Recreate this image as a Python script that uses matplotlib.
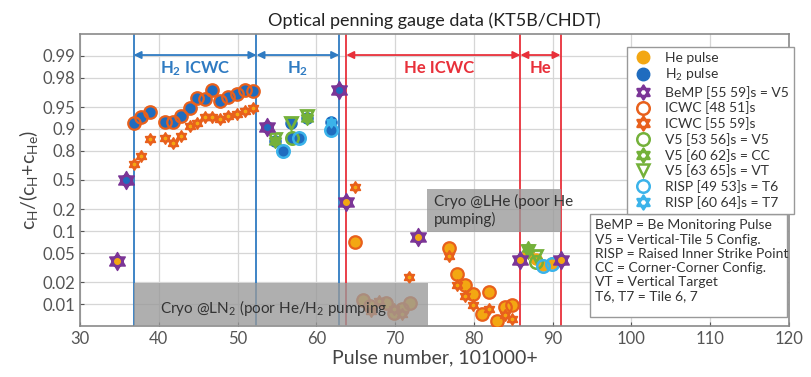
import numpy as np
import matplotlib
matplotlib.use('Agg')
import matplotlib.pyplot as plt
from matplotlib.path import Path
from matplotlib.lines import Line2D
from matplotlib.patches import Rectangle
import matplotlib.transforms as mtransforms

plt.rcParams['font.family'] = ['Lato', 'DejaVu Sans']
plt.rcParams['mathtext.default'] = 'regular'

# colours
C_HE = '#f3a712'
C_H2 = '#1f6cbf'
C_BEMP = '#7b3597'
C_ICWC = '#e8601c'
C_V5 = '#74b13a'
C_RISP = '#3bb3ea'
C_BLUE = '#2f7bc2'
C_RED = '#e8303a'

# He pulses (filled dots)
he_x = [34.7, 63.8, 64.9, 65.9, 66.8, 68.9, 69.9, 70.9, 71.9, 72.9,
        76.9, 77.8, 78.9, 79.9, 81.0, 81.9, 82.9, 83.9, 84.9,
        85.9, 86.9, 87.9, 88.8, 89.9, 91.0]
he_y = [0.0387, 0.249, 0.070, 0.0115, 0.0095, 0.0104, 0.0076, 0.0086, 0.0104, 0.0837,
        0.0593, 0.0258, 0.0182, 0.0138, 0.0074, 0.0147, 0.0059, 0.0091, 0.0097,
        0.0403, 0.052, 0.042, 0.034, 0.036, 0.0403]

# H2 pulses (filled dots)
h2_x = [35.8, 36.9, 37.8, 38.9, 40.8, 41.8, 42.8, 43.9, 44.8, 45.9, 46.8, 47.8,
        48.8, 49.9, 50.9, 51.9, 53.7, 54.8, 55.8, 56.8, 56.9, 57.8, 58.8, 61.9,
        61.9, 62.9]
h2_y = [0.50, 0.917, 0.931, 0.942, 0.921, 0.921, 0.933, 0.948, 0.962, 0.961, 0.971, 0.959,
        0.963, 0.967, 0.971, 0.970, 0.907, 0.853, 0.800, 0.917, 0.868, 0.868, 0.929, 0.898,
        0.921, 0.971]

# Be monitoring pulses
bemp_x = [34.7, 35.8, 53.7, 62.9, 63.8, 72.9, 85.9, 91.0]
bemp_y = [0.0387, 0.50, 0.907, 0.971, 0.249, 0.0837, 0.0403, 0.0403]
bemp_gas = ['He', 'H2', 'H2', 'H2', 'He', 'He', 'He', 'He']

# ICWC [48 51]s
icwc1_x = [36.9, 37.8, 38.9, 40.8, 41.8, 42.8, 43.9, 44.8, 45.9, 46.8, 47.8, 48.8,
           49.9, 50.9, 51.9, 64.9, 65.9, 66.8, 68.9, 69.9, 70.9, 71.9, 76.9, 77.8,
           78.9, 79.9, 81.0, 81.9, 82.9, 83.9, 84.9]
icwc1_y = [0.917, 0.931, 0.942, 0.921, 0.921, 0.933, 0.948, 0.962, 0.961, 0.971, 0.959, 0.963,
           0.967, 0.971, 0.970, 0.070, 0.0115, 0.0095, 0.0104, 0.0076, 0.0086, 0.0104, 0.0593, 0.0258,
           0.0182, 0.0138, 0.0074, 0.0147, 0.0059, 0.0091, 0.0097]

# ICWC [55 59]s
icwc2_x = [36.9, 37.8, 38.9, 40.8, 41.8, 42.8, 43.9, 44.8, 45.9, 46.8, 47.8, 48.8,
           49.9, 50.9, 51.9, 64.9, 66.9, 67.9, 69.8, 70.9, 71.8, 76.9, 77.8, 78.9,
           79.9, 81.9, 83.9, 84.9]
icwc2_y = [0.697, 0.766, 0.861, 0.865, 0.846, 0.874, 0.910, 0.917, 0.931, 0.931, 0.927, 0.933,
           0.938, 0.944, 0.948, 0.398, 0.0081, 0.0110, 0.0085, 0.0072, 0.0233, 0.0462, 0.0182, 0.0129,
           0.0097, 0.0085, 0.0071, 0.0062]

# V5 / RISP configurations
v5a_x, v5a_y = [56.9, 87.9], [0.868, 0.038]
v5b_x, v5b_y = [54.8, 58.8, 86.9], [0.853, 0.929, 0.058]
v5c_x, v5c_y = [54.8, 56.8, 58.8, 86.9, 87.9], [0.862, 0.917, 0.933, 0.054, 0.045]
risp6_x, risp6_y = [55.8, 57.8, 61.9, 88.8, 89.9], [0.800, 0.868, 0.898, 0.033, 0.035]
risp7_x, risp7_y = [61.9], [0.921]

yticks = [0.01, 0.02, 0.05, 0.1, 0.2, 0.5, 0.8, 0.9, 0.95, 0.98, 0.99]
ytick_labels = ['0.01', '0.02', '0.05', '0.1', '0.2', '0.5', '0.8', '0.9', '0.95', '0.98', '0.99']
xticks = list(range(30, 121, 10))

blue_lines = [36.8, 52.4, 62.9]
red_lines = [63.8, 85.9, 91.0]


def fwd(p):
    p = np.clip(np.asarray(p, float), 1e-9, 1 - 1e-9)
    return np.where(p < 0.5, np.log10(2 * p), -np.log10(2 * (1 - p)))


def inv(y):
    y = np.clip(np.asarray(y, float), -9, 9)
    return np.where(y < 0, 10 ** y / 2, 1 - 10 ** (-y) / 2)


# star of David made of two triangles
a_up = np.pi / 2 + np.arange(3) * 2 * np.pi / 3
a_dn = -np.pi / 2 + np.arange(3) * 2 * np.pi / 3
verts = [(np.cos(a), np.sin(a)) for a in a_up] + [(0, 0)] + \
        [(np.cos(a), np.sin(a)) for a in a_dn] + [(0, 0)]
codes = [Path.MOVETO, Path.LINETO, Path.LINETO, Path.CLOSEPOLY] * 2
hexagram = Path(verts, codes)

fig = plt.figure(figsize=(8.11, 3.77), dpi=100)
ax = fig.add_axes([80 / 811, 1 - 326 / 377, 709 / 811, 292 / 377])
ax.set_yscale('function', functions=(fwd, inv))
ax.set_xlim(30, 120)
ax.set_ylim(0.005, 0.995)
ax.set_xticks(xticks)
ax.set_yticks(yticks)
ax.set_yticklabels(ytick_labels)
ax.minorticks_off()
ax.grid(True, color='#d6d6d6', lw=0.9)
ax.set_axisbelow(True)
ax.tick_params(direction='in', length=3, labelsize=12, colors='#555555', labelcolor='#555555')
for s in ax.spines.values():
    s.set_color('#8a8a8a')
    s.set_linewidth(1.2)

for x in blue_lines:
    ax.axvline(x, color=C_BLUE, lw=1.3, zorder=1.5)
for x in red_lines:
    ax.axvline(x, color=C_RED, lw=1.3, zorder=1.5)

ms = 8
ax.plot(he_x, he_y, 'o', color=C_HE, ms=ms, mec=C_HE, zorder=3)
ax.plot(h2_x, h2_y, 'o', color=C_H2, ms=ms, mec=C_H2, zorder=3)
ax.plot(icwc1_x, icwc1_y, 'o', mfc='none', mec=C_ICWC, ms=ms + 1, mew=1.6, zorder=4)
ax.plot(icwc2_x, icwc2_y, ls='none', marker=hexagram, mfc=C_HE, mec=C_ICWC, ms=8, mew=1.3, zorder=4)
ax.plot(v5a_x, v5a_y, 'o', mfc='none', mec=C_V5, ms=ms + 1, mew=1.8, zorder=4)
ax.plot(v5b_x, v5b_y, ls='none', marker=hexagram, mfc=C_V5, mec=C_V5, ms=10, mew=1, zorder=4)
ax.plot(v5c_x, v5c_y, 'v', mfc='none', mec=C_V5, ms=8, mew=2, zorder=4)
ax.plot(risp6_x, risp6_y, 'o', mfc='none', mec=C_RISP, ms=ms + 1, mew=1.8, zorder=4)
ax.plot(risp7_x, risp7_y, ls='none', marker=hexagram, mfc=C_RISP, mec=C_RISP, ms=8, mew=1, zorder=4)
ax.plot(bemp_x, bemp_y, ls='none', marker=hexagram, mfc=C_BEMP, mec=C_BEMP, ms=13, mew=1, zorder=5)
for x, y, g in zip(bemp_x, bemp_y, bemp_gas):
    ax.plot(x, y, 'o', color=C_HE if g == 'He' else C_H2, ms=4, zorder=6)

# cryopump periods
trans = mtransforms.blended_transform_factory(ax.transData, ax.transAxes)
ax.add_patch(Rectangle((36.9, 0), 74.2 - 36.9, 0.147, transform=trans,
                       fc='#999999', ec='none', alpha=0.78, zorder=7))
ax.text(40.2, 0.062, 'Cryo @LN$_2$ (poor He/H$_2$ pumping', transform=trans,
        fontsize=11, color='#333333', va='center', zorder=8)
ax.add_patch(Rectangle((74.0, 0.323), 91.0 - 74.0, 0.469 - 0.323, transform=trans,
                       fc='#999999', ec='none', alpha=0.78, zorder=7))
ax.text(74.9, 0.396, 'Cryo @LHe (poor He\npumping)', transform=trans,
        fontsize=11, color='#333333', va='center', linespacing=1.3, zorder=8)

# phase arrows
phases = [(36.8, 52.4, 'H$_2$ ICWC', C_BLUE), (52.4, 62.9, 'H$_2$', C_BLUE),
          (63.8, 85.9, 'He ICWC', C_RED), (85.9, 91.0, 'He', C_RED)]
for x0, x1, lab, c in phases:
    ax.annotate('', xy=(x0, 0.928), xytext=(x1, 0.928), xycoords=trans, textcoords=trans,
                arrowprops=dict(arrowstyle='<|-|>', color=c, lw=1.3, mutation_scale=11,
                                shrinkA=0, shrinkB=0))
    ax.text((x0 + x1) / 2 + (0.8 if lab == 'He ICWC' else 0), 0.882, lab, transform=trans,
            color=c, fontsize=12, fontweight='bold', ha='center', va='center')

handles = [
    Line2D([], [], ls='none', marker='o', color=C_HE, ms=9),
    Line2D([], [], ls='none', marker='o', color=C_H2, ms=9),
    Line2D([], [], ls='none', marker=hexagram, mfc='none', mec=C_BEMP, ms=10, mew=1.8),
    Line2D([], [], ls='none', marker='o', mfc='none', mec=C_ICWC, ms=9, mew=1.8),
    Line2D([], [], ls='none', marker=hexagram, mfc='none', mec=C_ICWC, ms=10, mew=1.8),
    Line2D([], [], ls='none', marker='o', mfc='none', mec=C_V5, ms=9, mew=1.8),
    Line2D([], [], ls='none', marker=hexagram, mfc='none', mec=C_V5, ms=10, mew=1.8),
    Line2D([], [], ls='none', marker='v', mfc='none', mec=C_V5, ms=9, mew=1.8),
    Line2D([], [], ls='none', marker='o', mfc='none', mec=C_RISP, ms=9, mew=1.8),
    Line2D([], [], ls='none', marker=hexagram, mfc='none', mec=C_RISP, ms=10, mew=1.8),
]
labels = ['He pulse', 'H$_2$ pulse', 'BeMP [55 59]s = V5', 'ICWC [48 51]s', 'ICWC [55 59]s',
          'V5 [53 56]s = V5', 'V5 [60 62]s = CC', 'V5 [63 65]s = VT',
          'RISP [49 53]s = T6', 'RISP [60 64]s = T7']
leg = ax.legend(handles, labels, loc='upper left', bbox_to_anchor=(0.772, 0.957),
                fontsize=10, labelspacing=0.2, handletextpad=0.9, borderpad=0.4,
                handlelength=1.4, fancybox=False, edgecolor='#999999', framealpha=1,
                borderaxespad=0)
leg.set_zorder(9)
for t in leg.get_texts():
    t.set_color('#333333')

ax.add_patch(Rectangle((0.719, 0.03), 0.278, 0.355, transform=ax.transAxes,
                       fc='white', ec='#999999', lw=1, zorder=9))
notes = ['BeMP = Be Monitoring Pulse', 'V5 = Vertical-Tile 5 Config.',
         'RISP = Raised Inner Strike Point', 'CC = Corner-Corner Config.',
         'VT = Vertical Target', 'T6, T7 = Tile 6, 7']
ax.text(0.726, 0.365, '\n'.join(notes), transform=ax.transAxes, fontsize=10,
        color='#333333', va='top', linespacing=1.22, zorder=10)

ax.set_title('Optical penning gauge data (KT5B/CHDT)', fontsize=13, color='#222222', pad=6)
ax.set_xlabel('Pulse number, 101000+', fontsize=14, color='#444444', labelpad=2)
ax.set_ylabel('c$_H$/(c$_H$+c$_{He}$)', fontsize=14, color='#444444', labelpad=2)

fig.savefig('out.png', dpi=100)
